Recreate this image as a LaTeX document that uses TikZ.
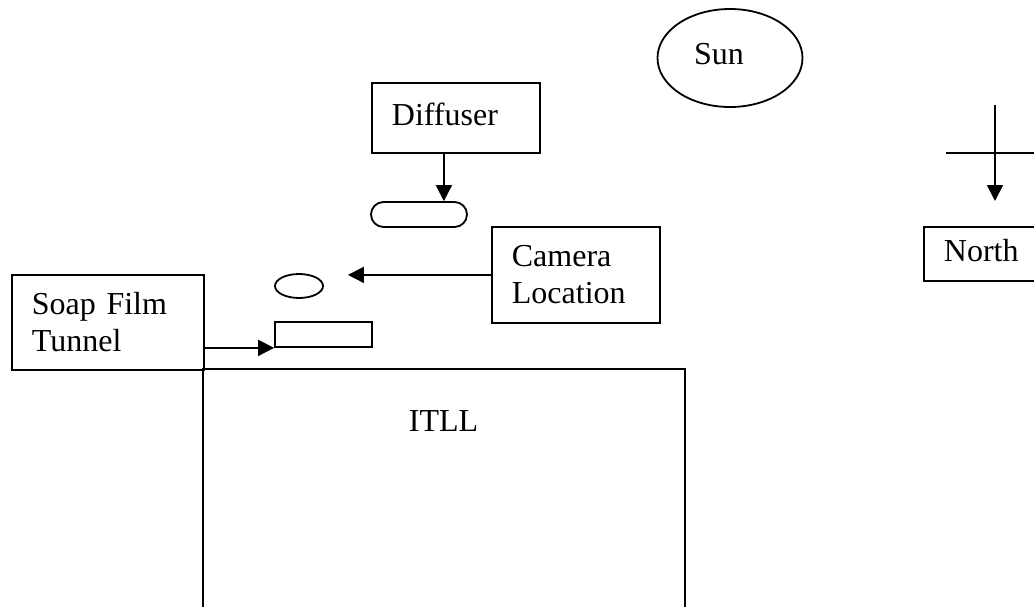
\documentclass[tikz,border=0pt]{standalone}
\usepackage{fontspec}
\setmainfont{Liberation Serif}
\usetikzlibrary{arrows.meta,shapes.geometric}
\begin{document}
\begin{tikzpicture}[x=0.5pt,y=-0.5pt,line width=0.9pt,
  every node/.style={font=\fontsize{16}{18.4}\selectfont},
  box/.style={draw,rectangle,anchor=north west,align=left,inner xsep=10pt,inner ysep=0pt},
  part/.style={draw,inner sep=0pt},
  arr/.style={-{Triangle[length=8pt,width=8pt]}}
  ]
  \useasboundingbox (0,0) rectangle (1034,606);
  \clip (0,0) rectangle (1034,606);

  \node[draw,ellipse,minimum width=72.5pt,minimum height=49pt,text width=36pt,align=left,text depth=4pt,inner sep=0pt] (sun) at (730,58) {Sun};
  \node[box,text width=64pt,minimum height=35pt,text depth=4pt] (diffuser) at (371,82) {Diffuser};
  \node[part,rounded corners=6.25pt,minimum width=48pt,minimum height=12.5pt] (plate) at (419,214.5) {};
  \node[box,text width=64pt,minimum height=48pt] (camera) at (491,226) {Camera\\Location};
  \node[part,ellipse,minimum width=24pt,minimum height=12pt] (lens) at (299,286) {};
  \node[part,minimum width=48.5pt,minimum height=12.5pt] (film) at (323.5,334.5) {};
  \node[box,text width=76pt,minimum height=47.5pt] (tunnel) at (11,274) {Soap Film\\Tunnel};
  \node[box,text width=38pt,minimum height=27pt,text depth=4pt] (north) at (923,226) {North};

  % building outline runs off the page
  \draw (203,620) |- (685,369) -- (685,620);
  \node[anchor=base] (itll) at (443.5,431) {ITLL};

  \coordinate (drop) at ([xshift=-6pt]diffuser.south);
  \draw[arr] (drop) -- (drop |- plate.north);
  \coordinate (camtip) at ([xshift=12pt]lens.east);
  \draw[arr] (camera.west) -- (camera.west -| camtip);
  \draw[arr] (film.south west -| tunnel.east) -- (film.south west);

  % compass
  \coordinate (ntop) at (995,105);
  \coordinate (ntip) at (995,201);
  \coordinate (wbar) at (946,153);
  \coordinate (ebar) at (1040,153);
  \draw[arr] (ntop) -- (ntip);
  \draw (wbar) -- (ebar);
\end{tikzpicture}
\end{document}
